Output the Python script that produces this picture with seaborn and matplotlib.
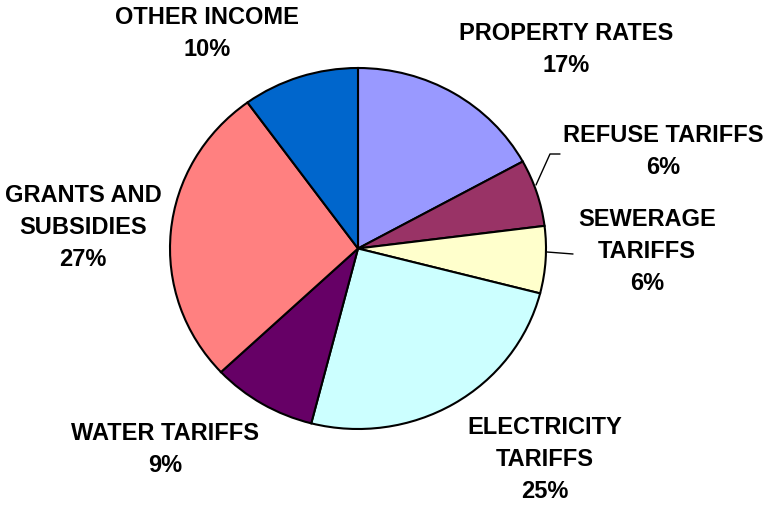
import matplotlib
matplotlib.use("Agg")
import matplotlib.pyplot as plt
import seaborn as sns
from matplotlib.lines import Line2D

categories = ["PROPERTY RATES", "REFUSE TARIFFS", "SEWERAGE\nTARIFFS",
              "ELECTRICITY\nTARIFFS", "WATER TARIFFS", "GRANTS AND\nSUBSIDIES",
              "OTHER INCOME"]
values = [17, 6, 6, 25, 9, 27, 10]
colors = ["#9999FF", "#993366", "#FFFFCC", "#CCFFFF", "#660066", "#FF8080", "#0066CC"]

# label centres in pixel coordinates (x, y from top)
label_pos = [(566, 49), (663, 151), (647, 251), (545, 460), (165, 450),
             (83, 227), (207, 33)]

sns.set_style("white")
plt.rcParams["font.family"] = ["Liberation Sans", "DejaVu Sans"]
plt.rcParams["text.color"] = "black"

W, H = 763, 507
fig = plt.figure(figsize=(W / 100, H / 100), dpi=100)
# pie area: x 170..546, y 68..429 (pixels)
ax = fig.add_axes([170 / W, (H - 429) / H, 376 / W, 361 / H])
ax.pie(values, colors=colors, startangle=90, counterclock=False,
       wedgeprops=dict(edgecolor="black", linewidth=1.5))
ax.set_aspect("auto")
ax.set_xlim(-1.0, 1.0)
ax.set_ylim(-1.0, 1.0)
ax.axis("off")

for cat, v, (px, py) in zip(categories, values, label_pos):
    fig.text(px / W, 1 - py / H, f"{cat}\n{v}%", ha="center", va="center",
             multialignment="center", fontsize=17, fontweight="bold",
             linespacing=1.5, color="black")

def fig_line(pts):
    xs = [p[0] / W for p in pts]
    ys = [1 - p[1] / H for p in pts]
    fig.add_artist(Line2D(xs, ys, transform=fig.transFigure, color="black", linewidth=1))

fig_line([(536, 185), (550, 154), (560, 154)])
fig_line([(547, 252), (573, 254)])

fig.savefig("out.png", dpi=100, facecolor="white")
